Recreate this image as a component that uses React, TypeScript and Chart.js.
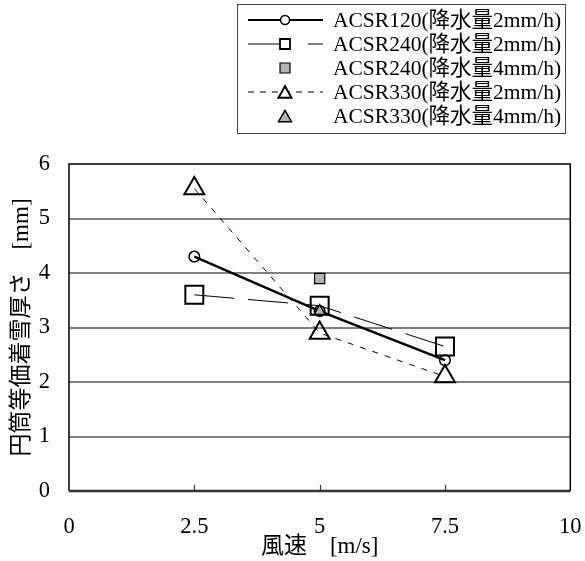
import React, { useEffect, useRef } from "react";
import { Chart, registerables } from "chart.js";

Chart.register(...registerables);

// ---- data ----
const windSpeed = [2.5, 5, 7.5];
const acsr120Rain2 = [4.3, 3.3, 2.4];
const acsr240Rain2 = [3.6, 3.4, 2.65];
const acsr240Rain4X = [5];
const acsr240Rain4 = [3.9];
const acsr330Rain2 = [5.55, 2.9, 2.1];
const acsr330Rain4X = [5];
const acsr330Rain4 = [3.3];
const seriesLabels = [
  "ACSR120(降水量2mm/h)",
  "ACSR240(降水量2mm/h)",
  "ACSR240(降水量4mm/h)",
  "ACSR330(降水量2mm/h)",
  "ACSR330(降水量4mm/h)",
];
const xTicks = [0, 2.5, 5, 7.5, 10];
const yTicks = [0, 1, 2, 3, 4, 5, 6];
const xTitle = "風速\u3000[m/s]";
const yTitle = "円筒等価着雪厚さ\u3000[mm]";

const FONT = '"Liberation Serif", "Noto Sans CJK JP", serif';
const GRAY = "#b3b3b3";

const pts = (xs: number[], ys: number[]) => xs.map((x, i) => ({ x, y: ys[i] }));

type LegendSpec = {
  line?: { width: number; dash: number[] };
  marker: { style: "circle" | "rect" | "triangle"; size: number; fill: string; lw: number };
};
const legendSpecs: LegendSpec[] = [
  { line: { width: 2, dash: [] }, marker: { style: "circle", size: 4.5, fill: "#fff", lw: 1.5 } },
  { line: { width: 1, dash: [38, 22] }, marker: { style: "rect", size: 5, fill: "#fff", lw: 1.8 } },
  { marker: { style: "rect", size: 5, fill: GRAY, lw: 1.2 } },
  { line: { width: 1, dash: [6, 6] }, marker: { style: "triangle", size: 6.5, fill: "#fff", lw: 2 } },
  { marker: { style: "triangle", size: 6.5, fill: GRAY, lw: 1.5 } },
];

function drawMarker(ctx: CanvasRenderingContext2D, m: LegendSpec["marker"], x: number, y: number) {
  ctx.save();
  ctx.setLineDash([]);
  ctx.lineWidth = m.lw;
  ctx.strokeStyle = "#000";
  ctx.fillStyle = m.fill;
  ctx.beginPath();
  if (m.style === "circle") {
    ctx.arc(x, y, m.size, 0, Math.PI * 2);
  } else if (m.style === "rect") {
    ctx.rect(x - m.size, y - m.size, m.size * 2, m.size * 2);
  } else {
    const h = m.size * 1.75;
    ctx.moveTo(x, y - h / 2);
    ctx.lineTo(x + m.size, y + h / 2);
    ctx.lineTo(x - m.size, y + h / 2);
    ctx.closePath();
  }
  ctx.fill();
  ctx.stroke();
  ctx.restore();
}

const framePlugin = {
  id: "frame",
  beforeDatasetsDraw(chart: any) {
    const { ctx, chartArea } = chart;
    const { left, right, top, bottom } = chartArea;
    const xs = chart.scales.x;
    ctx.save();
    ctx.setLineDash([]);
    ctx.strokeStyle = "#000";
    ctx.lineWidth = 1.5;
    ctx.beginPath();
    ctx.moveTo(left, bottom);
    ctx.lineTo(left, top);
    ctx.lineTo(right, top);
    ctx.lineTo(right, bottom);
    ctx.stroke();
    ctx.strokeStyle = "#333";
    ctx.lineWidth = 2.5;
    ctx.beginPath();
    ctx.moveTo(left, bottom);
    ctx.lineTo(right, bottom);
    ctx.stroke();
    ctx.lineWidth = 1.2;
    ctx.beginPath();
    xTicks.slice(1, -1).forEach((v) => {
      const px = Math.round(xs.getPixelForValue(v)) + 0.5;
      ctx.moveTo(px, bottom);
      ctx.lineTo(px, bottom - 6);
    });
    ctx.stroke();
    ctx.restore();
  },
};

const legendPlugin = {
  id: "customLegend",
  afterDraw(chart: any) {
    const { ctx } = chart;
    ctx.save();
    ctx.strokeStyle = "#444";
    ctx.lineWidth = 1;
    ctx.setLineDash([]);
    ctx.strokeRect(237.5, 4.5, 328, 129);
    ctx.font = `21.5px ${FONT}`;
    ctx.textBaseline = "middle";
    ctx.textAlign = "left";
    ctx.fillStyle = "#000";
    legendSpecs.forEach((spec, i) => {
      const y = 20 + i * 24;
      if (spec.line) {
        ctx.save();
        ctx.strokeStyle = "#000";
        ctx.lineWidth = spec.line.width;
        ctx.setLineDash(spec.line.dash);
        ctx.beginPath();
        ctx.moveTo(248, y);
        ctx.lineTo(323, y);
        ctx.stroke();
        ctx.restore();
      }
      drawMarker(ctx, spec.marker, 285, y);
      ctx.fillText(seriesLabels[i], 333, y + 1);
    });
    ctx.restore();
  },
};

export default function App() {
  const ref = useRef<HTMLCanvasElement | null>(null);
  useEffect(() => {
    if (!ref.current) return;
    const chart = new Chart(ref.current, {
      type: "scatter",
      data: {
        datasets: [
          {
            label: seriesLabels[0],
            data: pts(windSpeed, acsr120Rain2),
            showLine: true,
            borderColor: "#000",
            borderWidth: 2.5,
            pointStyle: "circle",
            pointRadius: 5.3,
            pointBorderWidth: 1.5,
            pointBorderColor: "#000",
            pointBackgroundColor: "rgba(0,0,0,0)",
            order: 2,
          },
          {
            label: seriesLabels[1],
            data: pts(windSpeed, acsr240Rain2),
            showLine: true,
            borderColor: "#000",
            borderWidth: 1,
            borderDash: [40, 14],
            pointStyle: "rect",
            pointRadius: 12.7,
            pointBorderWidth: 2,
            pointBorderColor: "#000",
            pointBackgroundColor: "rgba(0,0,0,0)",
            order: 3,
          },
          {
            label: seriesLabels[2],
            data: pts(acsr240Rain4X, acsr240Rain4),
            showLine: false,
            pointStyle: "rect",
            pointRadius: 7.2,
            pointBorderWidth: 1.2,
            pointBorderColor: "#000",
            pointBackgroundColor: GRAY,
            order: 4,
          },
          {
            label: seriesLabels[3],
            data: pts(windSpeed, acsr330Rain2),
            showLine: true,
            borderColor: "#000",
            borderWidth: 1,
            borderDash: [6, 7],
            pointStyle: "triangle",
            pointRadius: 11.5,
            pointBorderWidth: 2,
            pointBorderColor: "#000",
            pointBackgroundColor: "rgba(0,0,0,0)",
            order: 1,
          },
          {
            label: seriesLabels[4],
            data: pts(acsr330Rain4X, acsr330Rain4),
            showLine: false,
            pointStyle: "triangle",
            pointRadius: 6.5,
            pointBorderWidth: 1.5,
            pointBorderColor: "#000",
            pointBackgroundColor: GRAY,
            order: 0,
          },
        ],
      },
      options: {
        animation: false,
        responsive: false,
        maintainAspectRatio: false,
        layout: { padding: { left: 0, top: 164, right: 0, bottom: 0 } },
        plugins: { legend: { display: false }, tooltip: { enabled: false } },
        scales: {
          x: {
            type: "linear",
            min: 0,
            max: 10,
            afterBuildTicks: (axis: any) => {
              axis.ticks = xTicks.map((v) => ({ value: v }));
            },
            afterFit: (axis: any) => {
              axis.height = 70;
              axis.paddingRight = 12;
              axis.paddingLeft = 0;
            },
            grid: { display: false, drawTicks: false },
            border: { display: false },
            ticks: {
              padding: 23,
              color: "#000",
              font: { family: FONT, size: 22.5 },
              maxRotation: 0,
              autoSkip: false,
            },
            title: {
              display: true,
              text: xTitle,
              color: "#000",
              font: { family: FONT, size: 23 },
              padding: { top: 0, bottom: 0 },
            },
          },
          y: {
            type: "linear",
            min: 0,
            max: 6,
            afterBuildTicks: (axis: any) => {
              axis.ticks = yTicks.map((v) => ({ value: v }));
            },
            afterFit: (axis: any) => {
              axis.width = 69;
            },
            grid: {
              drawTicks: false,
              lineWidth: 2,
              color: (c: any) =>
                c.tick && (c.tick.value === 0 || c.tick.value === 6) ? "rgba(0,0,0,0)" : "#808080",
            },
            border: { display: false },
            ticks: {
              padding: 19,
              color: "#000",
              font: { family: FONT, size: 22.5 },
              autoSkip: false,
            },
            title: {
              display: true,
              text: yTitle,
              color: "#000",
              font: { family: FONT, size: 23 },
              padding: { top: 8, bottom: 0 },
            },
          },
        },
      },
      plugins: [framePlugin, legendPlugin],
    });
    return () => chart.destroy();
  }, []);
  return (
    <div style={{ position: "fixed", left: 0, top: 0, width: 585, height: 561, background: "#fff" }}>
      <canvas ref={ref} width={585} height={561} />
    </div>
  );
}
